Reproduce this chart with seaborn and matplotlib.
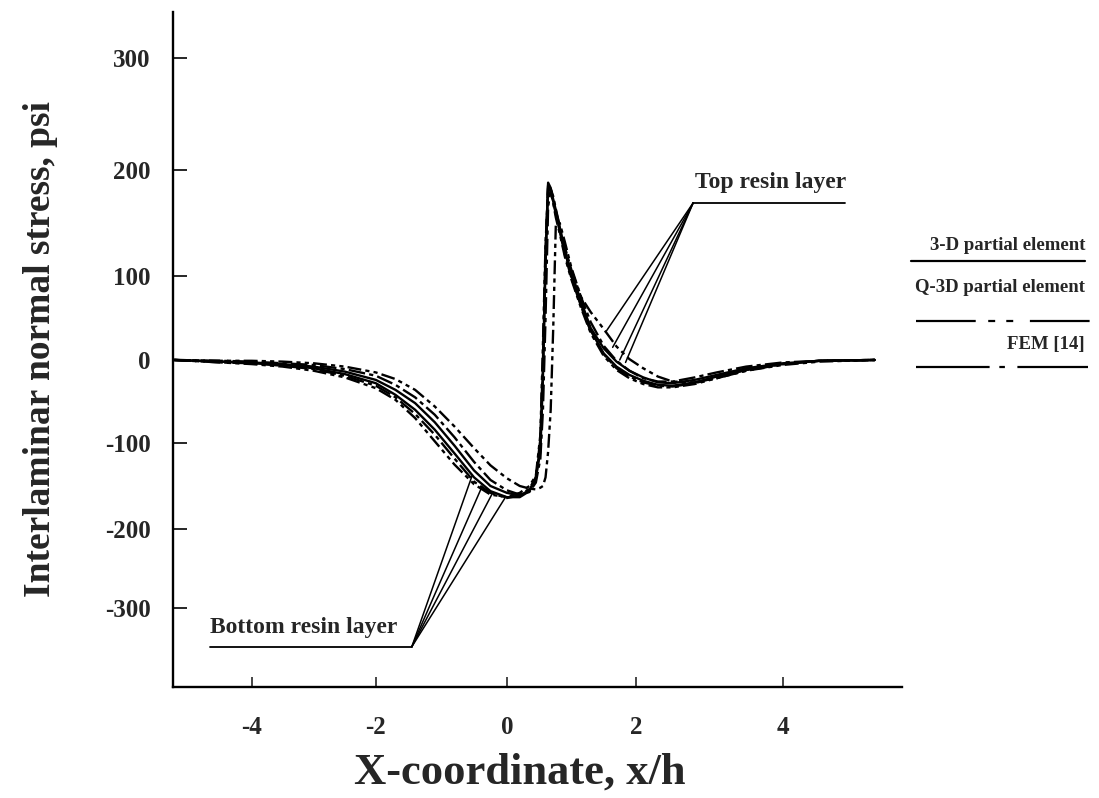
import matplotlib
matplotlib.use("Agg")
import matplotlib.pyplot as plt
from matplotlib.lines import Line2D
import numpy as np
import pandas as pd
import seaborn as sns

# x/h positions shared by every curve
x_grid = [-5.25, -4.5, -4.0, -3.5, -3.0, -2.5, -2.0, -1.7, -1.4, -1.1, -0.8, -0.5,
          -0.25, 0.0, 0.2, 0.35, 0.45, 0.52, 0.56, 0.6, 0.64, 0.68, 0.72, 0.76,
          0.82, 0.9, 1.0, 1.15, 1.3, 1.5, 1.7, 1.9, 2.1, 2.3, 2.5, 2.8, 3.1, 3.5,
          4.0, 4.5, 5.25]

# interlaminar normal stress (psi)
top_3d = [0, -2, -3, -5, -8, -14, -24, -36, -52, -75, -103, -132,
          -150, -158, -161, -155, -140, -110, -20, 110, 186, 182, 170, 160,
          145, 122, 103, 70, 38, 14, -2, -13, -21, -27, -28, -24, -18, -10,
          -4, -1, 0]
bottom_3d = [0, -2, -4, -6, -10, -17, -28, -42, -60, -84, -112, -140,
             -156, -163, -163, -156, -142, -100, -10, 120, 188, 183, 172, 162,
             146, 124, 100, 66, 35, 8, -8, -18, -25, -30, -31, -27, -20, -12,
             -5, -1, 0]
top_q3d = [0, -1, -1, -2, -4, -8, -15, -23, -36, -56, -80, -106,
           -126, -141, -150, -153, -154, -152, -150, -140, -110, -60, 40, 150,
           150, 132, 108, 75, 57, 37, 16, 1, -10, -20, -26, -27, -22, -13,
           -5, -1, 0]
bottom_q3d = [0, -3, -5, -8, -13, -21, -34, -48, -70, -98, -125, -148,
              -160, -163, -158, -150, -138, -90, 20, 130, 183, 180, 168, 155,
              140, 118, 96, 62, 32, 5, -12, -22, -29, -33, -33, -29, -22, -13,
              -6, -2, 0]
top_fem = [0, -1, -2, -4, -6, -11, -19, -30, -45, -66, -93, -122,
           -143, -155, -160, -157, -146, -118, -60, 50, 165, 182, 175, 163,
           147, 127, 106, 75, 45, 17, -1, -13, -22, -26, -26, -21, -15, -8,
           -3, -1, 0]
bottom_fem = [0, -3, -4, -7, -11, -19, -31, -45, -65, -90, -118, -145,
              -158, -164, -161, -153, -140, -95, 0, 125, 185, 181, 170, 158,
              142, 120, 98, 64, 34, 7, -10, -20, -27, -31, -32, -28, -21, -12,
              -5, -1, 0]

methods = ["3-D partial element", "Q-3D partial element", "FEM [14]"]
y_ticks = [-300, -200, -100, 0, 100, 200, 300]
x_ticks = [-4, -2, 0, 2, 4]

# leader-line tips for the two layer callouts
top_tip_x = [1.53, 1.64, 1.75, 1.84]
top_tip_y = [33, 15, 0, -3]
bottom_tip_x = [-0.53, -0.38, -0.23, -0.02]
bottom_tip_y = [-138, -151, -160, -163]

rows = []
for name, method, ys in [("top 3-D", methods[0], top_3d),
                         ("bottom 3-D", methods[0], bottom_3d),
                         ("top Q-3D", methods[1], top_q3d),
                         ("bottom Q-3D", methods[1], bottom_q3d),
                         ("top FEM", methods[2], top_fem),
                         ("bottom FEM", methods[2], bottom_fem)]:
    for x, y in zip(x_grid, ys):
        rows.append({"x": x, "stress": y, "curve": name, "method": method})
df = pd.DataFrame(rows)

sns.set_theme(style="ticks")
plt.rcParams["font.family"] = ["Liberation Serif", "DejaVu Serif"]
plt.rcParams["font.weight"] = "bold"
plt.rcParams["axes.unicode_minus"] = False
plt.rcParams["lines.scale_dashes"] = False

# the scanned axes are not evenly spaced: map tick values to their pixel rows/cols
yv = np.array([-2000, -300, -200, -100, 0, 100, 200, 300, 2000])
yp = -np.array([608 + 1700 * 0.79, 608, 529, 443, 360, 276, 170, 58, 58 - 1700 * 1.12])
xv = np.array([-100, -4, -2, 0, 2, 4, 100])
xp = np.array([252 - 96 * 62, 252, 376, 507, 636, 783, 783 + 96 * 73.5])

fig = plt.figure(figsize=(10.99, 7.98), dpi=100)
ax = fig.add_axes([173 / 1099, 1 - 687 / 798, (902 - 173) / 1099, (687 - 12) / 798])
ax.set_xscale("function", functions=(lambda v: np.interp(v, xv, xp),
                                     lambda p: np.interp(p, xp, xv)))
ax.set_yscale("function", functions=(lambda v: np.interp(v, yv, yp),
                                     lambda p: np.interp(p, yp, yv)))

dashes = {methods[0]: "", methods[1]: (10, 3, 3, 3, 3, 3), methods[2]: (12, 3, 3, 3)}
sns.lineplot(data=df, x="x", y="stress", hue="curve", style="method",
             palette={c: "black" for c in df["curve"].unique()},
             dashes=dashes, lw=1.7, legend=False, errorbar=None, ax=ax)

# callouts
vx, vy = 2.78, 169
for tx, ty in zip(top_tip_x, top_tip_y):
    ax.plot([vx, tx], [vy, ty], color="black", lw=1.1)
ax.plot([vx, 4.84], [vy, vy], color="black", lw=1.3)
ax.text(2.80, 188, "Top resin layer", fontsize=17, ha="left", va="center")

bx, by = -1.45, -349
for tx, ty in zip(bottom_tip_x, bottom_tip_y):
    ax.plot([bx, tx], [by, ty], color="black", lw=1.1)
ax.plot([-4.68, bx], [by, by], color="black", lw=1.3)
ax.text(-4.68, -325, "Bottom resin layer", fontsize=17, ha="left", va="center")

ax.set_xlim(-5.27, 5.62)
ax.set_ylim(-400, 341)
ax.set_xticks(x_ticks)
ax.set_yticks(y_ticks)
ax.set_xticklabels([str(t) for t in x_ticks])
ax.set_yticklabels([str(t) for t in y_ticks])
ax.tick_params(axis="y", direction="in", length=10, width=1.4, pad=16, labelsize=18)
ax.tick_params(axis="x", direction="in", length=7, width=1.2, pad=21, labelsize=18)
sns.despine(ax=ax)
for side in ["left", "bottom"]:
    ax.spines[side].set_linewidth(1.7)
    ax.spines[side].set_color("black")

ax.set_xlabel("X-coordinate, x/h", fontsize=32, fontweight="bold")
ax.set_ylabel("Interlaminar normal stress, psi", fontsize=27, fontweight="bold")
ax.xaxis.set_label_coords(0.476, -0.127)
ax.xaxis.label.set_verticalalignment("center")
ax.yaxis.set_label_coords(-0.182, 0.5)
ax.yaxis.label.set_verticalalignment("center")

# method key drawn beside the axes, text above each line sample
key = [(methods[0], 246, 261, 911, 1085, "-"),
       (methods[1], 288, 321, 916, 1093, (0, (43, 9, 5, 8, 5, 12))),
       (methods[2], 345, 367, 916, 1088, (0, (53, 7, 4, 9)))]
for label, ty, ly, x0, x1, ls in key:
    fig.text(1085 / 1099, 1 - ty / 798, label, fontsize=13.5, ha="right", va="center")
    fig.add_artist(Line2D([x0 / 1099, x1 / 1099], [1 - ly / 798] * 2,
                          transform=fig.transFigure, color="black", lw=1.6, linestyle=ls))

fig.savefig("out.png", dpi=100)
